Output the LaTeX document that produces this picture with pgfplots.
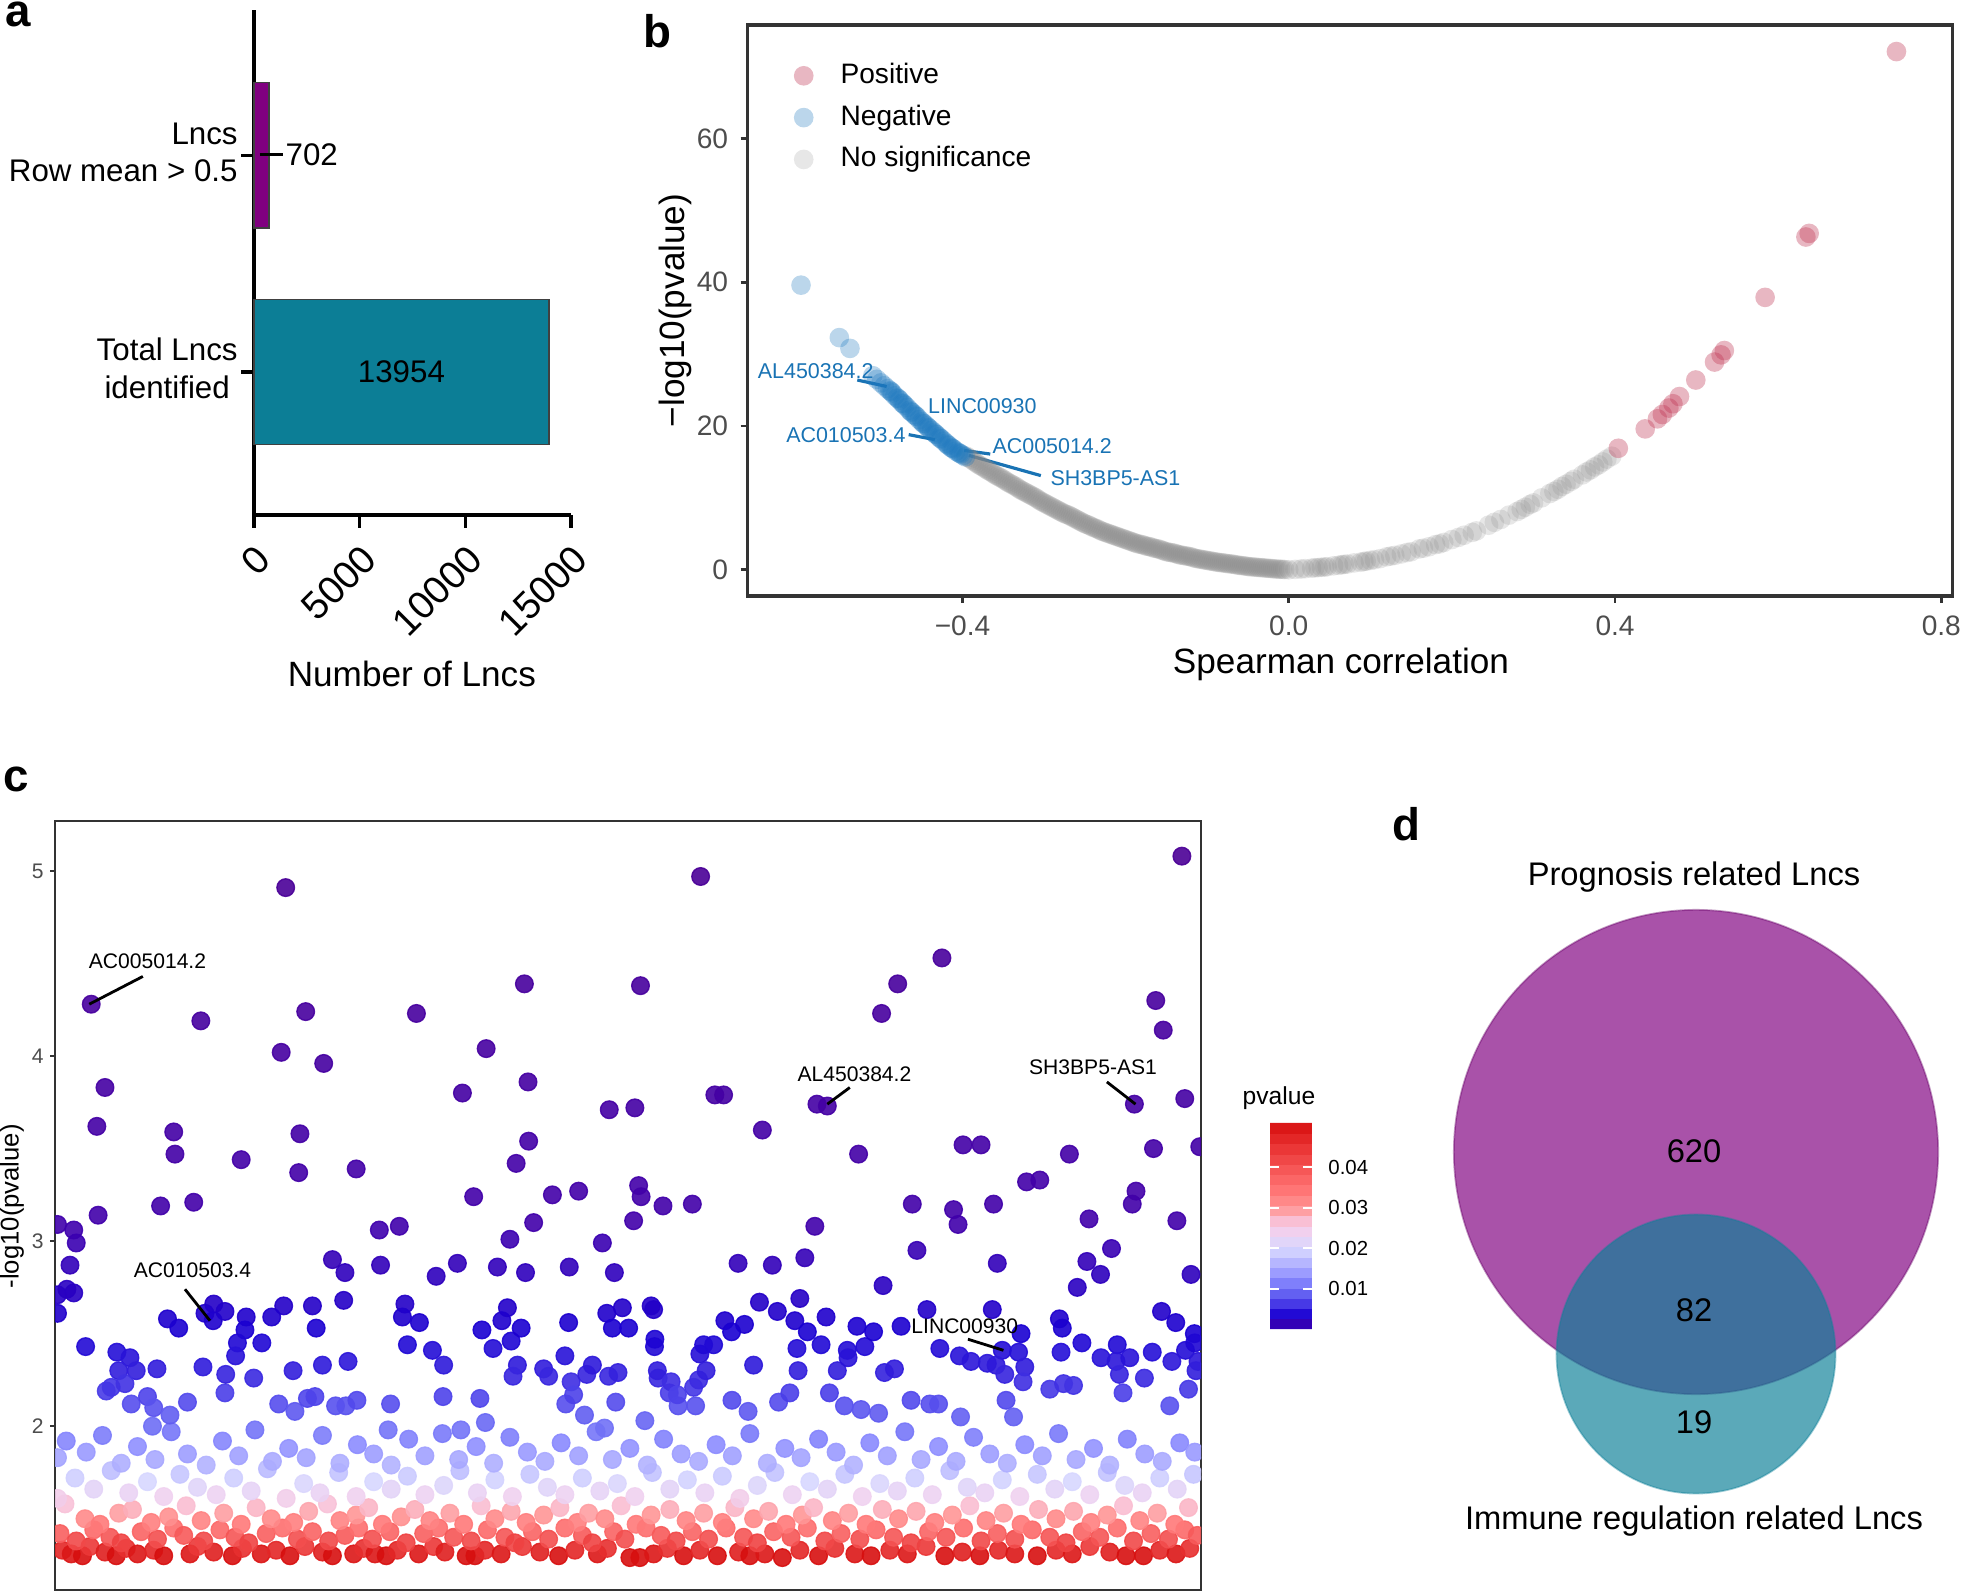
\documentclass[border=0pt]{standalone}
\usepackage{fontspec}
\setmainfont{Liberation Sans}
\usepackage{pgfplots}
\pgfplotsset{compat=1.18}
\definecolor{barpurple}{RGB}{128,0,128}
\definecolor{barteal}{RGB}{12,126,150}
\definecolor{posc}{RGB}{190,50,80}
\definecolor{negc}{RGB}{30,120,190}
\definecolor{nsc}{RGB}{135,135,135}
\definecolor{lblblue}{RGB}{25,115,180}
\definecolor{framegray}{RGB}{51,51,51}
\definecolor{tickgray}{RGB}{77,77,77}
\definecolor{vennpurple}{RGB}{128,0,128}
\definecolor{vennteal}{RGB}{13,128,152}
\begin{document}
\begin{tikzpicture}
\path[use as bounding box] (0,0) rectangle (19.61,15.94);

% ---------------- panel a ----------------
\begin{axis}[
  at={(2.54cm,10.79cm)}, anchor=south west,
  scale only axis, width=3.17cm, height=5.05cm,
  xbar, bar width=0.67, bar shift=0pt,
  xmin=0, xmax=15000, ymin=0.34, ymax=2.67,
  axis x line=bottom, axis y line=left,
  axis line style={-, line width=0.9pt, black},
  scaled x ticks=false,
  xtick={0,5000,10000,15000}, xticklabels={0,5000,10000,15000},
  ytick={1,2},
  yticklabels={{\begin{tabular}{@{}c@{}}Total Lncs\\identified\end{tabular}},{\begin{tabular}{@{}r@{}}Lncs\hspace{0.085cm}\\Row mean > 0.5\end{tabular}}},
  tick align=outside, major tick length=0.13cm,
  tick style={line width=0.9pt, black},
  xticklabel style={rotate=45, anchor=north east, font=\fontsize{11}{13}\selectfont, inner sep=2.8pt},
  yticklabel style={font=\fontsize{8.9}{10.6}\selectfont, xshift=0.09cm},
  xlabel={Number of Lncs},
  xlabel style={at={(axis description cs:0.498,-0.315)}, anchor=center, font=\fontsize{10}{12}\selectfont},
  clip=false,
]
\addplot[fill=barpurple, draw=black!75, line width=0.4pt] coordinates {(702,2)};
\addplot[fill=barteal, draw=black!75, line width=0.4pt] coordinates {(13954,1)};
\node[anchor=west, font=\fontsize{8.9}{10}\selectfont, inner sep=0pt] at (axis cs:0,2) {\hspace{0.05cm}\rule[2.75pt]{0.23cm}{0.9pt}\hspace{0.03cm}702};
\node[font=\fontsize{8.9}{10}\selectfont] at (axis cs:6977,1) {13954};
\end{axis}

% ---------------- panel b ----------------
\begin{axis}[
  at={(7.475cm,9.98cm)}, anchor=south west,
  scale only axis, width=12.05cm, height=5.71cm,
  xmin=-0.6636, xmax=0.8138, ymin=-3.65, ymax=75.8,
  axis line style={line width=1.1pt, framegray},
  scaled ticks=false,
  xtick={-0.4,0,0.4,0.8}, xticklabels={−0.4,0.0,0.4,0.8},
  ytick={0,20,40,60}, yticklabels={0,20,40,60},
  xtick pos=left, ytick pos=left,
  tick align=outside, major tick length=0.07cm,
  tick style={line width=0.8pt, framegray},
  ticklabel style={font=\fontsize{8}{9.6}\selectfont, text=tickgray},
  xlabel={Spearman correlation}, ylabel={−log10(pvalue)},
  xlabel style={at={(axis description cs:0.4925,-0.119)}, anchor=center, font=\fontsize{10}{12}\selectfont},
  ylabel style={at={(axis description cs:-0.060,0.5)}, anchor=center, font=\fontsize{10}{12}\selectfont},
  legend style={at={(axis description cs:0.0379,0.947)}, anchor=north west, draw=none, fill=none, font=\fontsize{8}{9.6}\selectfont, row sep=0.6pt, column sep=0.2cm, inner sep=0pt},
  legend cell align=left, reverse legend,
]
\addplot[only marks, mark=*, mark size=2.8pt, color=nsc, mark options={draw opacity=0, fill=nsc, fill opacity=0.2}] coordinates {
(-0.395,15.8)(-0.390,15.4)(-0.385,15.0)(-0.380,14.6)(-0.375,14.3)(-0.370,13.9)(-0.365,13.6)(-0.360,13.2)(-0.355,12.9)(-0.350,12.6)(-0.345,12.2)(-0.340,11.9)(-0.335,11.6)(-0.330,11.2)(-0.325,10.9)(-0.320,10.6)(-0.315,10.3)(-0.310,10.0)(-0.305,9.6)(-0.300,9.3)(-0.295,9.0)(-0.290,8.7)(-0.285,8.4)(-0.280,8.1)(-0.275,7.8)(-0.270,7.6)(-0.265,7.3)(-0.260,7.0)(-0.255,6.7)(-0.250,6.4)(-0.245,6.2)(-0.240,5.9)(-0.235,5.7)(-0.230,5.4)(-0.225,5.2)(-0.220,5.0)(-0.215,4.8)(-0.210,4.6)(-0.205,4.4)(-0.200,4.2)(-0.195,4.0)(-0.190,3.8)(-0.185,3.6)(-0.180,3.5)(-0.175,3.3)(-0.170,3.2)(-0.165,3.0)(-0.160,2.9)(-0.155,2.7)(-0.150,2.5)(-0.145,2.4)(-0.140,2.3)(-0.135,2.1)(-0.130,2.0)(-0.125,1.9)(-0.120,1.8)(-0.115,1.6)(-0.110,1.5)(-0.105,1.4)(-0.100,1.3)(-0.095,1.2)(-0.090,1.1)(-0.085,1.0)(-0.080,0.95)(-0.075,0.85)(-0.070,0.8)(-0.065,0.7)(-0.060,0.6)(-0.055,0.55)(-0.050,0.45)(-0.045,0.4)(-0.040,0.35)(-0.035,0.3)(-0.030,0.25)(-0.025,0.2)(-0.020,0.15)(-0.015,0.1)(-0.010,0.07)(-0.005,0.03)(0.000,0.0)
(-0.3925,15.6)(-0.3875,15.2)(-0.3825,14.8)(-0.3775,14.45)(-0.3725,14.1)(-0.3675,13.75)(-0.3625,13.4)(-0.3575,13.05)(-0.3525,12.75)(-0.3475,12.4)(-0.3425,12.05)(-0.3375,11.75)(-0.3325,11.4)(-0.3275,11.05)(-0.3225,10.75)(-0.3175,10.45)(-0.3125,10.15)(-0.3075,9.8)(-0.3025,9.45)(-0.2975,9.15)(-0.2925,8.85)(-0.2875,8.55)(-0.2825,8.25)(-0.2775,7.95)(-0.2725,7.7)(-0.2675,7.45)(-0.2625,7.15)(-0.2575,6.85)(-0.2525,6.55)(-0.2475,6.3)(-0.2425,6.05)(-0.2375,5.8)(-0.2325,5.55)(-0.2275,5.3)(-0.2225,5.1)(-0.2175,4.9)(-0.2125,4.7)(-0.2075,4.5)(-0.2025,4.3)(-0.1975,4.1)(-0.1925,3.9)(-0.1875,3.7)(-0.1825,3.55)(-0.1775,3.4)(-0.1725,3.25)(-0.1675,3.1)(-0.1625,2.95)(-0.1575,2.8)(-0.1525,2.6)(-0.1475,2.45)(-0.1425,2.35)(-0.1375,2.2)(-0.1325,2.05)(-0.1275,1.95)(-0.1225,1.85)(-0.1175,1.7)(-0.1125,1.55)(-0.1075,1.45)(-0.1025,1.35)(-0.0975,1.25)(-0.0925,1.15)
(-0.0875,1.05)(-0.0825,0.98)(-0.0775,0.9)(-0.0725,0.82)(-0.0675,0.75)(-0.0625,0.65)(-0.0575,0.58)(-0.0525,0.5)(-0.0475,0.42)(-0.0425,0.38)(-0.0375,0.32)(-0.0325,0.28)(-0.0275,0.22)(-0.0225,0.18)(-0.0175,0.12)(-0.0125,0.08)(-0.0075,0.05)
(0.008,0.05)(0.020,0.15)(0.028,0.22)(0.032,0.28)(0.040,0.35)(0.047,0.42)(0.055,0.55)(0.061,0.62)(0.065,0.70)(0.072,0.80)(0.080,0.95)(0.088,1.05)(0.095,1.20)(0.100,1.30)(0.105,1.40)(0.112,1.55)(0.120,1.80)(0.130,2.00)(0.138,2.20)(0.145,2.40)(0.150,2.50)(0.160,2.90)(0.172,3.20)(0.180,3.50)(0.185,3.60)(0.190,3.80)(0.200,4.20)(0.215,4.80)(0.225,5.20)(0.230,5.40)(0.245,6.20)(0.260,7.00)(0.270,7.60)(0.280,8.10)(0.285,8.40)(0.290,8.70)(0.300,9.30)(0.310,10.0)(0.320,10.6)(0.330,11.2)(0.335,11.6)(0.340,11.9)(0.350,12.6)(0.360,13.2)(0.365,13.6)(0.370,13.9)(0.380,14.6)(0.385,15.0)(0.390,15.4)(0.396,15.8)
(0.015,0.1)(0.036,0.3)(0.044,0.38)(0.068,0.75)(0.092,1.15)(0.125,1.9)(0.165,3.0)(0.208,4.5)(0.252,6.6)(0.296,9.1)(0.325,10.9)(0.346,12.3)(0.375,14.3)
};
\addlegendentry{No significance}
\addplot[only marks, mark=*, mark size=2.8pt, color=negc, mark options={draw opacity=0, fill=negc, fill opacity=0.3}] coordinates {
(-0.598,39.6)(-0.551,32.3)(-0.538,30.8)(-0.510,27.0)(-0.505,26.5)(-0.500,26.0)(-0.496,25.6)(-0.492,25.2)(-0.489,24.9)(-0.486,24.6)(-0.483,24.2)(-0.480,23.9)(-0.477,23.6)(-0.474,23.2)(-0.471,22.9)(-0.468,22.6)(-0.465,22.2)(-0.462,21.9)(-0.459,21.6)(-0.456,21.3)(-0.453,20.9)(-0.450,20.6)(-0.447,20.3)(-0.444,20.0)(-0.441,19.7)(-0.438,19.4)(-0.435,19.1)(-0.432,18.8)(-0.429,18.5)(-0.426,18.2)(-0.423,17.9)(-0.420,17.6)(-0.417,17.3)(-0.414,17.0)(-0.411,16.8)(-0.408,16.5)(-0.405,16.3)(-0.402,16.1)(-0.399,15.9)(-0.3965,15.7)
(-0.4875,24.8)(-0.4725,23.1)(-0.4575,21.4)(-0.4425,19.8)(-0.4275,18.3)(-0.4125,16.9)(-0.4785,23.8)(-0.4635,22.0)(-0.4485,20.4)(-0.4335,18.9)(-0.4185,17.4)(-0.4035,16.2)
};
\addlegendentry{Negative}
\addplot[only marks, mark=*, mark size=2.8pt, color=posc, mark options={draw opacity=0, fill=posc, fill opacity=0.35}] coordinates {
(0.404,16.9)(0.437,19.6)(0.452,21.0)(0.458,21.6)(0.466,22.5)(0.471,23.1)(0.479,24.1)(0.499,26.4)(0.522,28.9)(0.530,29.9)(0.534,30.5)(0.584,37.9)(0.634,46.3)(0.638,46.8)(0.745,72.1)
};
\addlegendentry{Positive}
\node[font=\fontsize{6.1}{7}\selectfont, text=lblblue, inner sep=0pt] at (axis cs:-0.580,27.7) {AL450384.2};
\draw[lblblue, line width=0.9pt] (axis cs:-0.529,26.4) -- (axis cs:-0.493,25.5);
\node[anchor=west, font=\fontsize{6.1}{7}\selectfont, text=lblblue, inner sep=0pt] at (axis cs:-0.443,22.8) {LINC00930};
\node[font=\fontsize{6.1}{7}\selectfont, text=lblblue, inner sep=0pt] at (axis cs:-0.543,18.8) {AC010503.4};
\draw[lblblue, line width=0.9pt] (axis cs:-0.466,18.8) -- (axis cs:-0.434,18.1);
\node[anchor=west, font=\fontsize{6.1}{7}\selectfont, text=lblblue, inner sep=0pt] at (axis cs:-0.364,17.25) {AC005014.2};
\draw[lblblue, line width=0.9pt] (axis cs:-0.398,16.6) -- (axis cs:-0.366,16.1);
\node[anchor=west, font=\fontsize{6.1}{7}\selectfont, text=lblblue, inner sep=0pt] at (axis cs:-0.293,12.7) {SH3BP5-AS1};
\draw[lblblue, line width=0.9pt] (axis cs:-0.392,15.9) -- (axis cs:-0.304,13.1);
\end{axis}

% ---------------- panel c ----------------
\begin{axis}[
  at={(0.55cm,0.04cm)}, anchor=south west,
  scale only axis, width=11.46cm, height=7.69cm,
  xmin=44, xmax=961, ymin=1.115, ymax=5.27,
  axis line style={line width=0.8pt, framegray},
  xtick=\empty, ytick={2,3,4,5}, yticklabels={2,3,4,5}, ytick pos=left,
  tick align=outside, major tick length=0.05cm,
  tick style={line width=0.7pt, framegray},
  yticklabel style={font=\fontsize{6}{7}\selectfont, text=tickgray, xshift=0.06cm},
  ylabel={-log10(pvalue)},
  ylabel style={at={(axis description cs:-0.0375,0.499)}, anchor=center, font=\fontsize{7.3}{8.5}\selectfont},
  colormap={cmapy}{
   rgb255(130pt)=(215,15,15)
   rgb255(135pt)=(235,55,55)
   rgb255(140pt)=(245,85,85)
   rgb255(146pt)=(255,115,115)
   rgb255(152pt)=(255,150,150)
   rgb255(157pt)=(250,190,210)
   rgb255(162pt)=(240,210,240)
   rgb255(170pt)=(215,215,255)
   rgb255(180pt)=(175,175,255)
   rgb255(190pt)=(140,140,255)
   rgb255(200pt)=(110,110,245)
   rgb255(215pt)=(80,70,235)
   rgb255(230pt)=(50,30,220)
   rgb255(250pt)=(25,0,210)
   rgb255(280pt)=(45,0,190)
   rgb255(310pt)=(65,0,170)
   rgb255(510pt)=(75,0,150)
  },
  point meta min=1.30, point meta max=5.10,
  clip marker paths=true,
]
\addplot[scatter, only marks, mark=*, mark size=2.5pt, point meta=y,
  scatter/use mapped color={draw=mapped color, fill=mapped color, fill opacity=0.9, draw opacity=0.9}] coordinates {
(50,1.33)(57,1.31)(66,1.30)(72,1.35)(84,1.32)(93,1.30)(101,1.34)(110,1.31)(123,1.33)(131,1.30)(152,1.31)(158,1.35)(171,1.32)(186,1.30)(194,1.34)(209,1.31)(221,1.33)(232,1.30)(244,1.35)(258,1.32)(266,1.30)(283,1.31)(291,1.34)(300,1.31)(309,1.30)(318,1.33)(335,1.31)(347,1.35)(356,1.32)(373,1.30)(380,1.30)(388,1.33)(401,1.31)(418,1.35)(432,1.32)(447,1.30)(460,1.33)(478,1.31)(486,1.34)(504,1.29)(512,1.29)(523,1.31)(534,1.34)(547,1.30)(560,1.33)(574,1.30)(591,1.32)(600,1.30)(612,1.31)(626,1.29)(640,1.33)(655,1.30)(668,1.34)(684,1.31)(697,1.30)(712,1.33)(726,1.31)(741,1.35)(756,1.30)(770,1.32)(784,1.30)(799,1.33)(812,1.31)(830,1.30)(845,1.33)(858,1.31)(872,1.35)(888,1.32)(901,1.30)(915,1.30)(928,1.33)(941,1.31)(952,1.34)
(48,1.42)(61,1.38)(75,1.44)(88,1.40)(97,1.37)(113,1.43)(126,1.39)(139,1.45)(147,1.41)(163,1.38)(176,1.44)(188,1.40)(199,1.37)(213,1.42)(226,1.45)(238,1.39)(250,1.43)(263,1.38)(276,1.41)(287,1.45)(298,1.39)(312,1.43)(325,1.37)(339,1.42)(351,1.45)(363,1.40)(377,1.38)(390,1.44)(404,1.40)(412,1.37)(426,1.43)(439,1.39)(452,1.45)(466,1.41)(474,1.37)(491,1.43)(500,1.39)(517,1.45)(529,1.41)(541,1.38)(554,1.43)(567,1.39)(581,1.45)(595,1.40)(606,1.37)(619,1.43)(633,1.40)(646,1.45)(660,1.38)(673,1.42)(688,1.39)(701,1.44)(715,1.40)(729,1.37)(743,1.43)(757,1.40)(771,1.45)(785,1.38)(798,1.42)(812,1.39)(826,1.44)(840,1.40)(853,1.37)(866,1.43)(880,1.40)(894,1.45)(907,1.38)(921,1.42)(935,1.39)(948,1.44)(958,1.41)
(52,1.58)(68,1.50)(80,1.47)(95,1.53)(106,1.55)(121,1.48)(135,1.51)(149,1.57)(161,1.49)(179,1.53)(193,1.47)(205,1.56)(217,1.50)(235,1.48)(247,1.54)(262,1.58)(272,1.49)(285,1.52)(295,1.56)(306,1.47)(321,1.51)(332,1.55)(344,1.49)(360,1.53)(371,1.47)(385,1.57)(396,1.50)(409,1.54)(421,1.48)(435,1.52)(448,1.56)(462,1.48)(471,1.53)(484,1.50)(497,1.57)(509,1.47)(521,1.52)(536,1.55)(549,1.49)(563,1.53)(578,1.48)(588,1.56)(603,1.50)(615,1.54)(629,1.47)(642,1.52)(651,1.56)(666,1.49)(679,1.53)(693,1.47)(706,1.55)(719,1.50)(733,1.54)(748,1.48)(762,1.52)(776,1.57)(789,1.49)(803,1.53)(817,1.47)(831,1.55)(845,1.50)(859,1.54)(873,1.48)(886,1.52)(899,1.57)(912,1.49)(926,1.53)(940,1.47)(951,1.56)
(46,1.61)(60,1.72)(75,1.66)(89,1.76)(103,1.64)(118,1.70)(131,1.62)(144,1.74)(158,1.67)(173,1.63)(187,1.72)(201,1.65)(214,1.77)(229,1.61)(243,1.69)(256,1.64)(271,1.75)(285,1.62)(299,1.70)(313,1.66)(326,1.73)(340,1.63)(355,1.68)(368,1.76)(382,1.64)(396,1.71)(410,1.62)(424,1.74)(438,1.67)(452,1.63)(466,1.72)(480,1.65)(494,1.69)(508,1.62)(522,1.75)(536,1.66)(550,1.71)(564,1.64)(578,1.73)(592,1.61)(606,1.68)(620,1.75)(634,1.63)(648,1.70)(662,1.66)(676,1.74)(690,1.62)(704,1.69)(718,1.65)(732,1.72)(746,1.63)(760,1.76)(774,1.67)(788,1.64)(802,1.71)(816,1.62)(830,1.74)(844,1.66)(858,1.70)(872,1.63)(886,1.75)(900,1.68)(914,1.64)(928,1.72)(942,1.66)(955,1.74)
(46,1.83)(53,1.92)(69,1.86)(82,1.95)(97,1.80)(110,1.89)(124,1.82)(137,1.97)(150,1.85)(165,1.79)(178,1.92)(191,1.84)(204,1.98)(218,1.81)(231,1.88)(245,1.83)(258,1.95)(272,1.80)(286,1.90)(299,1.85)(313,1.79)(327,1.93)(340,1.84)(354,1.96)(367,1.82)(381,1.89)(395,1.80)(408,1.94)(422,1.86)(436,1.81)(449,1.91)(463,1.84)(477,1.97)(490,1.82)(504,1.88)(518,1.79)(531,1.93)(545,1.85)(559,1.81)(573,1.90)(586,1.84)(600,1.96)(614,1.80)(628,1.88)(641,1.83)(655,1.93)(669,1.86)(683,1.79)(696,1.91)(710,1.84)(724,1.97)(737,1.82)(751,1.89)(765,1.81)(779,1.94)(792,1.85)(806,1.80)(820,1.90)(834,1.84)(847,1.96)(861,1.82)(875,1.88)(888,1.79)(902,1.93)(916,1.85)(930,1.81)(944,1.91)(956,1.86)
(85,2.19)(105,2.12)(118,2.16)(123,2.10)(136,2.06)(122,2.00)(150,2.13)(180,2.18)(223,2.12)(236,2.08)(246,2.15)(252,2.16)(268.5,2.11)(276.7,2.11)(285.6,2.14)(312.5,2.12)(354.5,2.16)(384,2.15)(388.4,2.02)(452.7,2.12)(467.7,2.06)(492.7,2.13)(516,2.03)(483.7,1.99)(310.6,1.98)(368.8,1.98)
(228.6,4.91)(73,4.28)(419.6,4.39)(512.5,4.38)(160.7,4.19)(244.6,4.24)(333.2,4.23)(225,4.02)(389,4.04)(259,3.96)(84,3.83)(422.5,3.86)(370,3.80)(77.5,3.62)(487.5,3.71)(508,3.72)(139,3.59)(240,3.58)(140,3.47)(423,3.54)(193,3.44)(239,3.37)(285,3.39)(413,3.42)(128.5,3.19)(155,3.21)(379,3.24)(442,3.25)(463,3.27)(513,3.24)(511,3.30)(530.5,3.19)(554,3.20)(78.5,3.14)(46,3.09)(59,3.06)(61,2.99)(56,2.87)(46,2.71)(59,2.72)(53.5,2.74)(46,2.61)(427,3.10)(507,3.11)(319.5,3.08)(303.5,3.06)(408,3.01)(482,2.99)(266,2.90)(276,2.83)(304.5,2.87)(349,2.81)(366,2.88)(398,2.86)(420.5,2.83)(455.5,2.86)(491.6,2.83)(275,2.68)(324,2.66)(322,2.59)(335.6,2.56)(250,2.65)(227,2.65)(217.4,2.59)(253,2.53)(197,2.59)(196,2.52)(190,2.45)(188.5,2.38)(209.5,2.45)(171,2.66)(164,2.61)(180,2.62)(170.6,2.57)(134,2.58)(143,2.53)(68.5,2.43)(93.5,2.40)(104,2.37)(95,2.30)(109,2.30)(89,2.21)(100,2.23)(162.4,2.32)(125.6,2.31)(180.6,2.28)(203,2.26)(234.5,2.30)(258,2.33)(278.5,2.35)(326,2.44)(346,2.41)(355,2.33)(385.6,2.52)(394.5,2.42)(406,2.64)(401.6,2.57)(409,2.46)(417,2.53)(414,2.33)(410.5,2.27)(435,2.31)(439,2.27)(452,2.38)(455,2.56)(457,2.24)(459,2.17)(469.5,2.28)(474,2.33)(485.5,2.61)(490,2.53)(498,2.64)(503,2.53)(487,2.27)(494.5,2.29)(521,2.65)(523.7,2.43)(526.6,2.26)(535.5,2.18)(542.6,2.11)(555,2.21)(560,2.39)
(560.6,4.97)(753.7,4.53)(718.3,4.39)(705.4,4.23)(924.8,4.30)(930.8,4.14)(945.7,5.08)(572,3.79)(579,3.79)(653.7,3.74)(662,3.73)(907.7,3.74)(948,3.77)(610,3.60)(687,3.47)(770.6,3.52)(785,3.52)(855.7,3.47)(923,3.50)(960,3.51)(821.4,3.32)(832,3.33)(909,3.27)(906,3.20)(730,3.20)(763,3.17)(766.6,3.09)(795,3.20)(652,3.08)(871.4,3.12)(941.7,3.11)(733.7,2.95)(889.4,2.96)(590.6,2.88)(618,2.87)(644,2.91)(798,2.88)(869.7,2.89)(880.6,2.82)(953,2.82)(862,2.75)(706.6,2.76)(523,2.63)(741.7,2.63)(794,2.63)(929.4,2.62)(607.7,2.67)(640,2.69)(580,2.57)(622,2.62)(661,2.59)(685.7,2.54)(721,2.54)(847.7,2.58)(850,2.53)(940.8,2.56)(955.7,2.50)(595.7,2.55)(585.4,2.51)(636,2.57)(646,2.51)(524,2.47)(563,2.44)(571,2.44)(637.7,2.42)(657,2.44)(678,2.41)(692,2.43)(699,2.51)(752,2.42)(767.7,2.38)(802,2.41)(817,2.50)(815,2.40)(849,2.40)(865.7,2.45)(894,2.44)(922,2.40)(948.6,2.41)(956,2.45)(958.6,2.35)(526,2.30)(559,2.25)(565,2.30)(603,2.33)(638.6,2.30)(670,2.30)(678.6,2.37)(707.7,2.29)(715.7,2.31)(777,2.35)(790,2.34)(797,2.33)(804,2.28)(820,2.32)(818.6,2.24)(881,2.37)(893,2.35)(904,2.37)(895.7,2.28)(915.7,2.26)(937.7,2.35)(957,2.30)(537,2.24)(542,2.17)(556.6,2.11)(585.7,2.14)(598.6,2.08)(623,2.13)(632,2.18)(663.7,2.18)(675.7,2.11)(689,2.09)(703,2.07)(729,2.14)(744,2.12)(751,2.12)(768.6,2.05)(805,2.14)(811,2.05)(840,2.20)(851,2.23)(859,2.22)(898.6,2.18)(936,2.11)(951,2.20)
};
\node[font=\fontsize{6}{7}\selectfont, inner sep=0pt] at (axis cs:118,4.51) {AC005014.2};
\draw[line width=0.8pt] (axis cs:71.4,4.28) -- (axis cs:114.3,4.43);
\node[font=\fontsize{6}{7}\selectfont, inner sep=0pt] at (axis cs:154,2.84) {AC010503.4};
\draw[line width=0.8pt] (axis cs:148,2.74) -- (axis cs:168,2.57);
\node[font=\fontsize{6}{7}\selectfont, inner sep=0pt] at (axis cs:683.7,3.90) {AL450384.2};
\draw[line width=0.8pt] (axis cs:680,3.83) -- (axis cs:662,3.74);
\node[font=\fontsize{6}{7}\selectfont, inner sep=0pt] at (axis cs:874.6,3.94) {SH3BP5-AS1};
\draw[line width=0.8pt] (axis cs:885.7,3.86) -- (axis cs:908.6,3.74);
\node[font=\fontsize{6}{7}\selectfont, inner sep=0pt] at (axis cs:772,2.54) {LINC00930};
\draw[line width=0.8pt] (axis cs:774.5,2.47) -- (axis cs:802.9,2.41);
\end{axis}

% ---------------- colorbar for panel c ----------------
\begin{axis}[
  at={(12.40cm,4.71cm)}, anchor=north west,
  scale only axis, width=0.42cm, height=2.06cm,
  hide axis, xmin=0, xmax=1, ymin=0, ymax=1,
  colormap={cmapp}{
   rgb255(0pt)=(75,0,150)
   rgb255(1.6pt)=(45,0,190)
   rgb255(3.2pt)=(25,0,210)
   rgb255(5pt)=(50,30,220)
   rgb255(7pt)=(80,70,235)
   rgb255(10pt)=(110,110,245)
   rgb255(12.6pt)=(140,140,255)
   rgb255(15.8pt)=(175,175,255)
   rgb255(20pt)=(215,215,255)
   rgb255(24pt)=(240,210,240)
   rgb255(27pt)=(250,190,210)
   rgb255(30pt)=(255,150,150)
   rgb255(34.7pt)=(255,115,115)
   rgb255(39.8pt)=(245,85,85)
   rgb255(44.7pt)=(235,55,55)
   rgb255(51pt)=(215,15,15)
  },
  point meta min=0, point meta max=0.051,
  colorbar sampled,
  colorbar style={at={(parent axis.north west)}, anchor=north west, xshift=0pt,
    width=0.42cm, height=2.06cm, samples=21,
    scaled y ticks=false,
    ytick={0.01,0.02,0.03,0.04}, yticklabels={0.01,0.02,0.03,0.04},
    yticklabel pos=right, ytick pos=both,
    axis line style={draw=none},
    tick align=inside, major tick length=0.09cm,
    tick style={white, line width=0.6pt},
    yticklabel style={font=\fontsize{5.8}{7}\selectfont, xshift=0.04cm}},
]
\addplot[draw=none] coordinates {(0.5,0.5)};
\end{axis}
\node[anchor=west, font=\fontsize{7}{8}\selectfont, inner sep=0pt] at (12.42,4.96) {pvalue};

% ---------------- panel d ----------------
\begin{axis}[
  at={(14.5cm,0.5cm)}, anchor=south west,
  scale only axis, width=5cm, height=7cm,
  hide axis, xmin=14.5, xmax=19.5, ymin=0.5, ymax=7.5, clip=false,
]
\addplot[only marks, mark=*, mark size=68.9pt, mark options={fill=vennpurple, fill opacity=0.68, draw=vennpurple!80!black, draw opacity=0.4, line width=0.5pt}] coordinates {(16.96,4.42)};
\addplot[only marks, mark=*, mark size=39.7pt, mark options={fill=vennteal, fill opacity=0.68, draw=vennteal, draw opacity=0.4, line width=0.5pt}] coordinates {(16.96,2.40)};
\end{axis}
\node[font=\fontsize{9.3}{11}\selectfont] at (16.94,7.17) {Prognosis related Lncs};
\node[font=\fontsize{9.3}{11}\selectfont] at (16.94,0.73) {Immune regulation related Lncs};
\node[font=\fontsize{9.3}{11}\selectfont] at (16.94,4.43) {620};
\node[font=\fontsize{9.3}{11}\selectfont] at (16.94,2.84) {82};
\node[font=\fontsize{9.3}{11}\selectfont] at (16.94,1.72) {19};

% panel letters
\node[font=\bfseries\fontsize{13}{14}\selectfont] at (0.18,15.80) {a};
\node[font=\bfseries\fontsize{13}{14}\selectfont] at (6.57,15.63) {b};
\node[font=\bfseries\fontsize{13}{14}\selectfont] at (0.16,8.15) {c};
\node[font=\bfseries\fontsize{13}{14}\selectfont] at (14.06,7.70) {d};
\end{tikzpicture}
\end{document}
